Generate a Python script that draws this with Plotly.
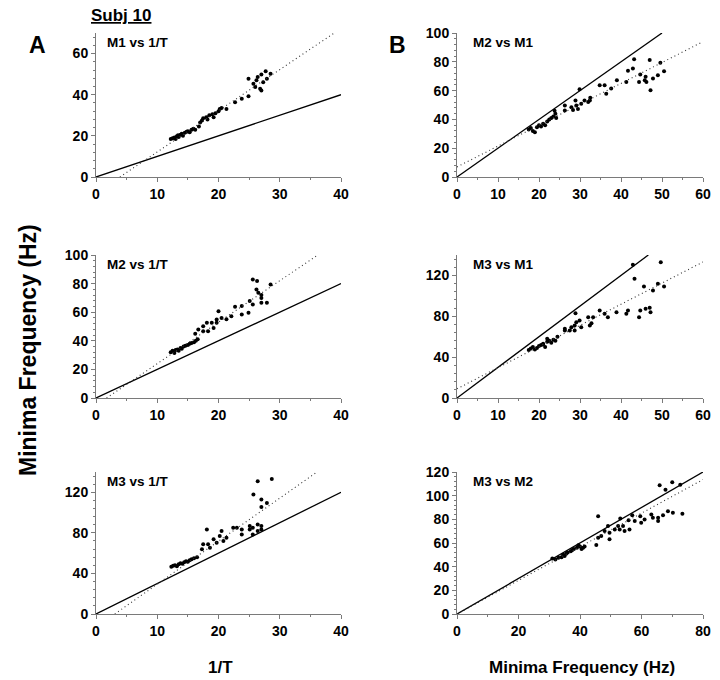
import plotly.graph_objects as go

# ---------------- data ----------------
# Panel A1: M1 vs 1/T
a1_x = [12.2, 12.5, 12.8, 13.0, 13.2, 13.4, 13.5, 13.8, 14.0, 14.2, 14.5, 14.8, 15.0, 15.3, 15.6, 15.9,
        16.2, 16.8, 17.0, 17.3, 17.5, 18.0, 18.2, 18.5, 19.0, 19.2, 19.5, 20.0, 20.2, 20.5, 21.3, 22.7,
        23.8, 24.9, 24.9, 25.7, 26.0, 26.2, 26.4, 26.8, 27.0, 27.0, 27.3, 27.7, 27.9, 28.5]
a1_y = [18.5, 18.8, 19.2, 18.5, 19.8, 20.3, 19.5, 20.5, 21.0, 20.0, 21.5, 22.0, 22.3, 21.8, 23.0, 23.5,
        23.0, 24.5, 26.5, 27.5, 28.5, 29.0, 28.0, 30.0, 30.5, 29.0, 31.0, 32.0, 33.0, 33.5, 33.0, 36.3,
        38.0, 47.8, 39.2, 45.3, 43.7, 47.0, 48.6, 42.9, 42.0, 49.8, 46.1, 51.4, 47.8, 50.2]

# Panel A2: M2 vs 1/T
a2_x = [12.2, 12.5, 12.8, 13.0, 13.3, 13.5, 13.8, 14.0, 14.3, 14.6, 15.0, 15.3, 15.6, 16.0, 16.3, 16.6,
        16.2, 16.7, 17.5, 18.1, 18.9, 17.5, 18.3, 19.2, 19.7, 20.0, 19.7, 20.5, 21.3, 22.1, 22.7, 23.8,
        23.8, 24.9, 25.1, 25.6, 26.3, 26.2, 26.5, 27.0, 27.0, 27.9, 27.0, 28.5, 25.6]
a2_y = [32.0, 33.0, 31.5, 33.5, 34.0, 33.0, 35.0, 34.5, 36.0, 36.5, 37.0, 38.0, 38.5, 39.0, 40.0, 41.0,
        45.0, 47.9, 50.2, 52.6, 52.6, 46.7, 46.7, 49.0, 52.6, 60.7, 54.9, 56.0, 55.0, 57.2, 63.8, 64.3,
        58.4, 59.6, 67.8, 82.9, 81.8, 75.9, 73.6, 70.0, 66.6, 66.6, 72.0, 79.4, 65.4]

# Panel A3: M3 vs 1/T
a3_x = [12.3, 12.6, 12.9, 13.2, 13.5, 13.8, 14.1, 14.4, 14.7, 15.0, 15.3, 15.6, 16.0, 16.5, 17.3, 18.1,
        17.5, 18.3, 18.6, 19.2, 19.7, 20.2, 20.5, 20.8, 21.3, 22.4, 23.0, 23.8, 23.8, 25.1, 25.1, 25.6,
        25.7, 26.4, 26.4, 27.0, 27.0, 27.0, 27.9, 28.7, 27.0, 26.4, 25.6]
a3_y = [46.5, 47.5, 48.0, 47.0, 49.0, 50.0, 49.5, 51.0, 52.0, 51.5, 53.0, 54.0, 55.0, 56.0, 63.8, 83.4,
        68.7, 68.7, 65.4, 73.6, 70.3, 76.8, 81.8, 71.9, 75.2, 85.0, 85.0, 83.4, 78.5, 86.7, 83.4, 78.5,
        117.7, 130.8, 88.3, 86.7, 112.8, 105.6, 109.5, 133.0, 83.4, 81.8, 85.0]

# Panel B1: M2 vs M1
b1_x = [17.5, 18.0, 18.5, 19.0, 19.5, 20.0, 20.5, 21.0, 21.5, 22.0, 22.5, 23.0, 23.5, 24.0, 23.8, 24.2,
        26.3, 26.3, 27.9, 28.3, 28.9, 29.1, 29.5, 29.9, 30.3, 31.1, 32.4, 32.5, 32.0, 34.8, 36.0, 36.4,
        37.6, 39.0, 41.3, 41.7, 43.2, 42.9, 44.4, 44.7, 45.8, 46.0, 46.2, 47.0, 47.2, 47.8, 49.0, 49.6, 50.5]
b1_y = [33.0, 34.0, 32.0, 31.0, 34.5, 36.0, 35.0, 37.0, 36.0, 38.5, 40.0, 41.0, 42.0, 44.0, 46.0, 41.0,
        49.6, 46.1, 48.5, 46.6, 53.2, 49.6, 47.3, 60.9, 50.8, 53.2, 53.2, 55.0, 52.0, 63.7, 63.7, 57.8,
        61.4, 67.2, 66.0, 73.8, 81.7, 75.4, 66.0, 71.2, 67.2, 69.6, 66.0, 81.3, 60.2, 68.4, 70.7, 79.4, 73.5]

# Panel B2: M3 vs M1
b2_x = [17.5, 18.0, 18.5, 19.0, 19.5, 20.0, 20.5, 21.0, 21.5, 22.0, 22.5, 23.0, 23.5, 24.0, 22.0, 21.0,
        24.5, 26.3, 26.3, 27.5, 27.9, 28.7, 28.9, 28.7, 29.1, 29.9, 30.3, 32.0, 32.4, 32.8, 33.2, 34.8,
        36.0, 36.8, 38.9, 41.3, 41.7, 42.9, 43.3, 44.4, 44.7, 45.6, 46.0, 47.0, 47.2, 47.8, 49.0, 49.7, 50.5]
b2_y = [47.0, 48.5, 50.0, 47.5, 49.0, 51.0, 52.0, 53.0, 50.0, 55.0, 56.0, 54.0, 57.0, 56.0, 58.0, 52.5,
        60.0, 66.0, 67.7, 66.0, 69.3, 71.0, 83.0, 66.0, 74.2, 75.9, 69.3, 79.1, 71.0, 73.3, 79.1, 85.7,
        82.4, 79.1, 84.0, 82.4, 85.7, 130.5, 116.7, 79.1, 85.7, 109.2, 87.3, 88.3, 84.0, 105.3, 111.8, 133.0, 109.2]

# Panel B3: M3 vs M2
b3_x = [31.0, 32.0, 33.0, 34.0, 34.5, 35.0, 35.5, 36.0, 37.0, 37.5, 38.0, 39.0, 39.5, 40.0, 40.5, 41.0,
        41.5, 45.3, 45.9, 45.9, 46.9, 48.0, 49.1, 49.6, 49.6, 51.3, 52.4, 52.9, 53.1, 54.0, 54.5, 55.8,
        56.1, 57.0, 57.8, 59.6, 59.9, 61.0, 63.2, 63.7, 65.4, 65.4, 65.9, 67.0, 67.8, 68.6, 70.0, 70.2, 72.6, 73.3]
b3_y = [47.0, 46.0, 47.5, 48.0, 50.0, 49.0, 51.0, 52.0, 53.0, 54.0, 55.0, 56.0, 58.0, 57.0, 55.0, 56.0,
        57.0, 58.3, 82.7, 64.5, 65.9, 70.1, 74.3, 63.1, 68.7, 71.5, 74.3, 71.5, 80.7, 74.3, 70.1, 79.3,
        71.5, 83.5, 78.5, 82.7, 77.1, 79.9, 84.1, 81.3, 78.5, 81.3, 108.8, 83.5, 105.1, 86.9, 111.3, 85.5, 109.3, 84.7]

panel_titles = ["M1 vs 1/T", "M2 vs M1", "M2 vs 1/T", "M3 vs M1", "M3 vs 1/T", "M3 vs M2"]
panel_x = [a1_x, b1_x, a2_x, b2_x, a3_x, b3_x]
panel_y = [a1_y, b1_y, a2_y, b2_y, a3_y, b3_y]

# reference (solid) line slopes and regression (dotted) fits
ref_slope = [1.0, 2.0, 2.0, 3.0, 3.0, 1.5]
fit_slope = [2.0, 1.45, 2.9, 2.07, 4.24, 1.42]
fit_intercept = [-7.8, 7.0, -5.0, 9.0, -13.0, 0.0]

x_max = [40, 60, 40, 60, 40, 80]
y_max = [70, 100, 100, 140, 140, 120]
x_dtick = [10, 10, 10, 10, 10, 20]
y_dtick = [20, 20, 20, 40, 40, 20]

# ---------------- layout geometry ----------------
W, H = 720, 680
col_px = [(96, 341), (457, 703)]
row_px = [(33, 177), (255, 398), (472, 614)]
title_dx = [9, 14]


def px(xp):
    return xp / W


def py(yp):
    return 1 - yp / H


FONT = "Liberation Sans, Arial, sans-serif"
AXC = "#7a7a7a"

fig = go.Figure()
layout = dict(width=W, height=H, margin=dict(l=0, r=0, t=0, b=0, autoexpand=False),
              plot_bgcolor="white", paper_bgcolor="white", showlegend=False,
              annotations=[])

for i in range(6):
    r, c = divmod(i, 2)
    n = i + 1
    xa = "x" if n == 1 else f"x{n}"
    ya = "y" if n == 1 else f"y{n}"
    xd = [px(col_px[c][0]), px(col_px[c][1])]
    yd = [py(row_px[r][1]), py(row_px[r][0])]
    wpx = col_px[c][1] - col_px[c][0]
    hpx = row_px[r][1] - row_px[r][0]

    xs, ys = panel_x[i], panel_y[i]
    fig.add_trace(go.Scatter(x=xs, y=ys, mode="markers", xaxis=xa, yaxis=ya,
                             marker=dict(color="black", size=4, line=dict(width=0))))
    # solid reference line
    xe = min(x_max[i], y_max[i] / ref_slope[i])
    fig.add_trace(go.Scatter(x=[0, xe], y=[0, ref_slope[i] * xe], mode="lines",
                             xaxis=xa, yaxis=ya, line=dict(color="black", width=1.3)))
    # dotted regression line
    s, b = fit_slope[i], fit_intercept[i]
    x0 = max(0.0, -b / s)
    x1 = min(x_max[i], (y_max[i] - b) / s)
    fig.add_trace(go.Scatter(x=[x0, x1], y=[s * x0 + b, s * x1 + b], mode="lines",
                             xaxis=xa, yaxis=ya, line=dict(color="#333", width=1.1, dash="1px,3px")))

    tickfont = dict(family=FONT, size=14, color="black", weight="bold")
    layout["xaxis" if n == 1 else f"xaxis{n}"] = dict(
        domain=xd, anchor=ya, range=[0, x_max[i]], dtick=x_dtick[i], tick0=0, automargin=False,
        showgrid=False, zeroline=False, showline=True, linecolor=AXC, linewidth=1,
        ticks="outside", ticklen=4, tickcolor=AXC, tickfont=tickfont,
        minor=dict(dtick=x_dtick[i] / 2, ticks="outside", ticklen=2, tickcolor=AXC))
    layout["yaxis" if n == 1 else f"yaxis{n}"] = dict(
        domain=yd, anchor=xa, range=[0, y_max[i]], dtick=y_dtick[i], tick0=0, automargin=False,
        showgrid=False, zeroline=False, showline=True, linecolor=AXC, linewidth=1,
        ticks="outside", ticklen=4, tickcolor=AXC, tickfont=tickfont,
        minor=dict(dtick=y_dtick[i] / 5, ticks="outside", ticklen=2, tickcolor=AXC))
    layout["annotations"].append(dict(
        text=f"<b>{panel_titles[i]}</b>", xref=f"{xa} domain", yref=f"{ya} domain",
        x=title_dx[c] / wpx, y=1 - 9.5 / hpx, xanchor="left", yanchor="middle", showarrow=False,
        font=dict(family=FONT, size=13.5, color="black")))

ann = layout["annotations"]


def label(text, xp, yp, size, angle=0, xanchor="center"):
    ann.append(dict(text=text, xref="paper", yref="paper", x=px(xp), y=py(yp),
                    xanchor=xanchor, yanchor="middle", showarrow=False, textangle=angle,
                    font=dict(family=FONT, size=size, color="black")))


label("<b>A</b>", 37, 45, 23)
label("<b>B</b>", 397, 45, 23)
label("<b><u>Subj 10</u></b>", 89, 15, 17, xanchor="left")
label("<b>Minima Frequency (Hz)</b>", 28, 350, 23, angle=-90)
label("<b>1/T</b>", 220, 667, 17)
label("<b>Minima Frequency (Hz)</b>", 582, 667, 17)

fig.update_layout(**layout)
fig.write_html("out.html", config={"displayModeBar": False},
               post_script="document.body.style.margin='0px';")
